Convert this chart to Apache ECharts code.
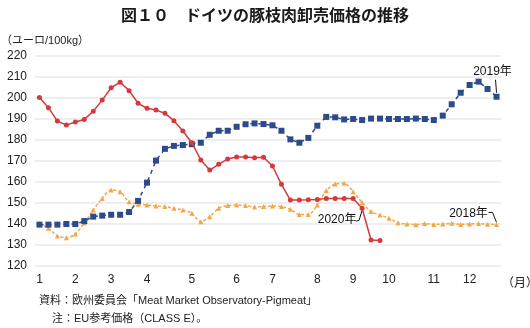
<!DOCTYPE html>
<html>
<head>
<meta charset="utf-8">
<script src="https://cdn.jsdelivr.net/npm/echarts@6/dist/echarts.min.js"></script>
<style>
html,body{margin:0;padding:0;background:#fff;}
#c{width:530px;height:328px;}
</style>
</head>
<body>
<div id="c"></div>
<script>
// ---- data ----
const weeks = Array.from({length: 52}, (_, i) => String(i + 1));
const monthLabels = ['1','2','3','4','5','6','7','8','9','10','11','12'];
const monthWeekIdx = [0, 4, 8, 12, 17, 22, 26, 31, 35, 39, 44, 48];

const s2019 = [139.7,139.7,139.7,140,140,141.4,143.5,144,144.4,144.4,145.7,151,159.7,170.2,175.8,177.2,177.6,178,178.7,182.5,184.4,184.4,186.3,187.5,187.9,187.6,187,184.4,180.3,178.7,181,186.8,191,190.8,189.8,190,189.5,190.2,190.2,190,190,190,190.2,190,189.5,191.6,197,202.5,206.2,207.8,204.3,200.6];
const s2020 = [200.2,195.4,189,187.1,188.6,189.8,193.7,199,204.9,207.5,203.5,197.5,195.1,194.3,192.7,189.2,184.3,178.7,170.5,165.7,168.4,171,171.9,171.9,171.6,171.8,167.6,158.9,151.4,151.4,151.5,151.7,152.2,152.2,152.2,152.2,147.5,132.4,132.1];
const s2018 = [140,138,134.3,133.5,135.2,140.5,146.7,152.2,156.2,155.4,150.6,149.4,149,148.6,148.3,147.5,146.7,145.1,141.1,143.5,147.5,148.8,149,148.8,148.1,148.3,148.6,148.3,147,144.5,144.5,149,156,159,159.4,155.4,150.2,145.9,144.3,142.7,140.6,140,139.7,140.2,139.8,140,140.3,139.8,140,140.2,139.9,139.8];
const seriesNames = ['2018年', '2019年', '2020年'];

const FONT = "'Liberation Sans','Noto Sans CJK JP',sans-serif";
const chart = echarts.init(document.getElementById('c'), null, {renderer: 'canvas'});

chart.setOption({
  animation: false,
  backgroundColor: '#fff',
  textStyle: {fontFamily: FONT},
  title: [
    {text: '図１０　ドイツの豚枝肉卸売価格の推移', left: 'center', top: 2,
     textStyle: {fontSize: 16, fontWeight: 'bold', color: '#1a1a1a', fontFamily: "'Noto Sans CJK JP',sans-serif"}},
    {text: '（ユーロ/100kg）', left: -4, top: 30,
     textStyle: {fontSize: 11, fontWeight: 'normal', color: '#222', fontFamily: FONT}},
    {text: '（月）', left: 497, top: 271,
     textStyle: {fontSize: 12, fontWeight: 'normal', color: '#222', fontFamily: "'Noto Sans CJK JP',sans-serif"}},
    {text: '資料：欧州委員会「Meat Market Observatory-Pigmeat」', left: 34, top: 290,
     textStyle: {fontSize: 11, fontWeight: 'normal', color: '#222', fontFamily: FONT}},
    {text: '注：EU参考価格（CLASS E）。', left: 47, top: 308,
     textStyle: {fontSize: 11, fontWeight: 'normal', color: '#222', fontFamily: FONT}}
  ],
  grid: {left: 35, right: 29, top: 56, bottom: 62},
  xAxis: {
    type: 'category',
    data: weeks,
    boundaryGap: true,
    axisLine: {show: false},
    axisTick: {show: false},
    axisLabel: {
      interval: function (idx) { return monthWeekIdx.indexOf(idx) >= 0; },
      formatter: function (val, idx) {
        const k = monthWeekIdx.indexOf(idx);
        return k >= 0 ? monthLabels[k] : '';
      },
      color: '#222', fontSize: 12, margin: 8, fontFamily: FONT
    },
    splitLine: {show: false}
  },
  yAxis: {
    type: 'value',
    min: 120, max: 220, interval: 10,
    axisLine: {show: false},
    axisTick: {show: false},
    axisLabel: {color: '#222', fontSize: 12, margin: 8, fontFamily: FONT},
    splitLine: {lineStyle: {color: '#e8e8e8', width: 1.5}}
  },
  series: [
    {
      name: seriesNames[0], type: 'line', data: s2018,
      symbol: 'triangle', symbolSize: 5, smooth: 0.3, showAllSymbol: true,
      itemStyle: {color: '#f4a748'},
      lineStyle: {color: '#f4a748', width: 1.5, type: [3, 2]},
      z: 2
    },
    {
      name: seriesNames[1], type: 'line', data: s2019,
      symbol: 'rect', symbolSize: 6, showAllSymbol: true,
      itemStyle: {color: '#2d4a8c'},
      lineStyle: {color: '#2d4a8c', width: 1.5, type: [4, 4]},
      z: 3
    },
    {
      name: seriesNames[2], type: 'line', data: s2020,
      symbol: 'circle', symbolSize: 5, showAllSymbol: true,
      itemStyle: {color: '#d43a3c'},
      lineStyle: {color: '#d43a3c', width: 1.5},
      z: 4
    }
  ]
});

// annotation labels positioned from the data points
function px(i, v) { return chart.convertToPixel({gridIndex: 0}, [i, v]); }
const p19 = px(51, s2019[51]);
const p18 = px(51, s2018[51]);
const p20 = px(36, s2020[36]);
const annStyle = {fontSize: 12, fill: '#111', fontFamily: FONT};
chart.setOption({
  graphic: [
    {type: 'text', x: p19[0] - 4, y: p19[1] - 25, style: Object.assign({text: '2019年', align: 'center', verticalAlign: 'middle'}, annStyle)},
    {type: 'polyline', shape: {points: [[p19[0] - 1, p19[1] - 17], [p19[0], p19[1] - 4]]}, style: {stroke: '#111', lineWidth: 1}},
    {type: 'text', x: p18[0] - 28, y: p18[1] - 11, style: Object.assign({text: '2018年', align: 'center', verticalAlign: 'middle'}, annStyle)},
    {type: 'polyline', shape: {points: [[p18[0] - 8, p18[1] - 12], [p18[0] - 4, p18[1] - 12], [p18[0], p18[1] - 2]]}, style: {stroke: '#111', lineWidth: 1}},
    {type: 'text', x: p20[0] - 25, y: p20[1] + 11, style: Object.assign({text: '2020年', align: 'center', verticalAlign: 'middle'}, annStyle)},
    {type: 'polyline', shape: {points: [[p20[0] - 6, p20[1] + 13], [p20[0] - 3, p20[1] + 12], [p20[0], p20[1] + 2]]}, style: {stroke: '#111', lineWidth: 1}}
  ]
});
</script>
</body>
</html>
